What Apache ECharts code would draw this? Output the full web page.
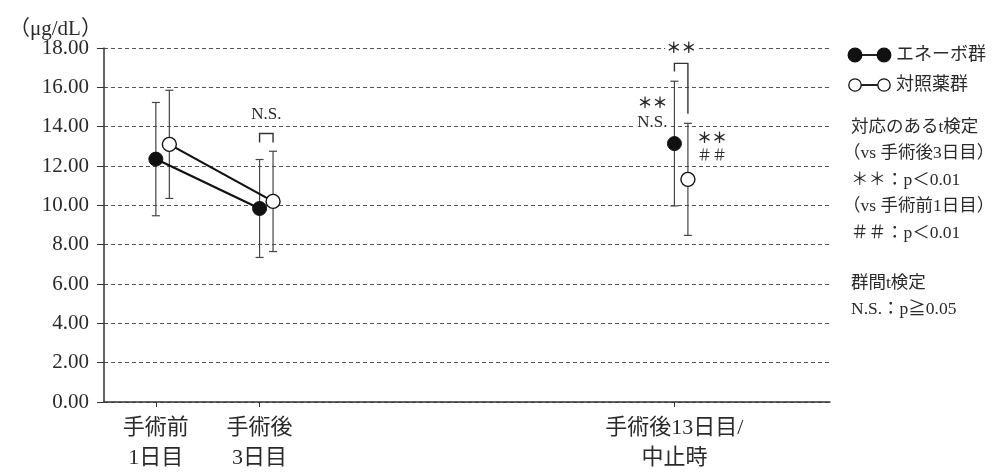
<!DOCTYPE html>
<html>
<head>
<meta charset="utf-8">
<script src="https://cdn.jsdelivr.net/npm/echarts@6/dist/echarts.min.js"></script>
<style>
  html, body { margin: 0; padding: 0; background: #fff; }
  #chart { width: 1003px; height: 473px; }
</style>
</head>
<body>
<div id="chart"></div>
<script>
// Time points on the x axis
const categories = ['手術前\n1日目', '手術後\n3日目', '手術後13日目/\n中止時'];
// Mean ± SD (μg/dL) for each group
const enerboMean = [12.35, 9.84, 13.14];
const enerboSD = [2.88, 2.49, 3.17];
const controlMean = [13.10, 10.20, 11.32];
const controlSD = [2.75, 2.55, 2.85];
// Y axis ticks
const yTicks = [0, 2, 4, 6, 8, 10, 12, 14, 16, 18];
// Group names
const groupNames = ['エネーボ群', '対照薬群'];
// Note text on the right
const notes = ['対応のあるt検定', '（vs 手術後3日目）', '＊＊：p＜0.01', '（vs 手術前1日目）', '＃＃：p＜0.01', '', '群間t検定', 'N.S.：p≧0.05'];

const FONT = "'Liberation Serif', 'Noto Sans CJK JP', serif";
const INK = '#2a2a2a';

// slot positions of the three time points on a 0..7 axis, and the side-by-side shift of the control group
const slots = [0.5, 1.5, 5.5];
const shift = 0.13;

const enerboPts = enerboMean.map((m, i) => [slots[i], m]);
const controlPts = controlMean.map((m, i) => [slots[i] + shift, m]);
const enerboErr = enerboMean.map((m, i) => [slots[i], m, enerboSD[i]]);
const controlErr = controlMean.map((m, i) => [slots[i] + shift, m, controlSD[i]]);

function errorBar(params, api) {
  const x = api.value(0), m = api.value(1), s = api.value(2);
  const top = api.coord([x, m + s]);
  const bot = api.coord([x, m - s]);
  const cap = 4;
  const style = { stroke: '#444', lineWidth: 1.2 };
  return {
    type: 'group',
    children: [
      { type: 'line', shape: { x1: top[0], y1: top[1], x2: bot[0], y2: bot[1] }, style },
      { type: 'line', shape: { x1: top[0] - cap, y1: top[1], x2: top[0] + cap, y2: top[1] }, style },
      { type: 'line', shape: { x1: bot[0] - cap, y1: bot[1], x2: bot[0] + cap, y2: bot[1] }, style }
    ]
  };
}

// Significance brackets: [xLeft, xRight, yTop, yLeftLegEnd, yRightLegEnd]
const brackets = [
  [slots[1], slots[1] + shift, 13.65, 13.2, 13.2],
  [slots[2], slots[2] + shift, 17.22, 16.8, 14.66]
];
function bracketItem(params, api) {
  const a = api.coord([api.value(0), api.value(2)]);
  const b = api.coord([api.value(1), api.value(2)]);
  const la = api.coord([api.value(0), api.value(3)]);
  const lb = api.coord([api.value(1), api.value(4)]);
  return {
    type: 'polyline',
    shape: { points: [[la[0], la[1]], [a[0], a[1]], [b[0], b[1]], [lb[0], lb[1]]] },
    style: { stroke: '#333', lineWidth: 1.4, fill: null }
  };
}

// Text marks: [x, y, text, pixel dx, align, font size]
const marks = [
  [slots[1] + shift / 2, 14.62, 'N.S.', 0, 'center', 17],
  [slots[2] + shift / 2, 17.95, '＊＊', 0, 'center', 15],
  [slots[2], 15.17, '＊＊', -22, 'center', 15],
  [slots[2], 14.2, 'N.S.', -6, 'right', 17],
  [slots[2] + shift, 13.35, '＊＊', 8, 'left', 15],
  [slots[2] + shift, 12.49, '＃＃', 8, 'left', 15]
];
function markItem(params, api) {
  const m = marks[params.dataIndex];
  const p = api.coord([m[0], m[1]]);
  const heavy = m[2].indexOf('＊') >= 0 ? 'bold ' : '';
  return {
    type: 'text',
    x: p[0] + m[3], y: p[1],
    style: {
      text: m[2], fill: INK, font: heavy + m[5] + 'px ' + FONT,
      align: m[4], verticalAlign: 'middle',
      backgroundColor: '#fff', padding: [0, 1]
    },
    z2: 10
  };
}

const chart = echarts.init(document.getElementById('chart'), null, { renderer: 'canvas' });

const legendY = [55, 85];
const graphic = [
  { type: 'text', x: 9, y: 29, style: { text: '（μg/dL）', font: '21px ' + FONT, fill: INK, verticalAlign: 'middle' } }
];
groupNames.forEach((name, i) => {
  const y = legendY[i];
  const filled = i === 0;
  graphic.push({ type: 'line', shape: { x1: 855, y1: y, x2: 884, y2: y }, style: { stroke: '#222', lineWidth: 2 } });
  [855, 884].forEach(cx => graphic.push({
    type: 'circle', shape: { cx, cy: y, r: filled ? 6.8 : 6.2 },
    style: { fill: filled ? '#111' : '#fff', stroke: '#111', lineWidth: 1.3 }, z: 10
  }));
  graphic.push({ type: 'text', x: 896, y, style: { text: name, font: '18px ' + FONT, fill: INK, verticalAlign: 'middle' } });
});
notes.forEach((t, i) => {
  if (!t) return;
  // full-width opening parenthesis carries its own left spacing
  const x = t.charAt(0) === '（' ? 843 : 851;
  graphic.push({ type: 'text', x, y: 127 + i * 26.5 + (i >= 6 ? -3 : 0), style: { text: t, font: '17.5px ' + FONT, fill: INK, verticalAlign: 'middle' } });
});

chart.setOption({
  animation: false,
  backgroundColor: '#fff',
  grid: { left: 104, right: 173, top: 48, bottom: 69 },
  xAxis: {
    type: 'value', min: 0, max: 7,
    axisLine: { lineStyle: { color: '#333', width: 1.5 } },
    axisTick: { show: true, length: 5, customValues: slots, lineStyle: { color: '#333' } },
    axisLabel: {
      customValues: slots,
      formatter: v => categories[slots.indexOf(v)] || '',
      color: INK, fontFamily: FONT, fontSize: 22, lineHeight: 30, margin: 11
    },
    splitLine: { show: false }
  },
  yAxis: {
    type: 'value', min: yTicks[0], max: yTicks[yTicks.length - 1], interval: 2,
    axisLine: { show: true, lineStyle: { color: '#333', width: 1.5 } },
    axisTick: { show: true, length: 7, lineStyle: { color: '#333' } },
    axisLabel: { formatter: v => v.toFixed(2), color: INK, fontFamily: FONT, fontSize: 21, margin: 15 },
    splitLine: { show: true, lineStyle: { color: '#555', type: [4, 3], width: 1 } }
  },
  graphic,
  series: [
    { type: 'custom', renderItem: errorBar, data: enerboErr, z: 2, silent: true },
    { type: 'custom', renderItem: errorBar, data: controlErr, z: 2, silent: true },
    { type: 'custom', renderItem: bracketItem, data: brackets, z: 3, silent: true },
    {
      name: groupNames[0], type: 'line', data: enerboPts.slice(0, 2), z: 4,
      symbol: 'circle', symbolSize: 14,
      lineStyle: { color: '#111', width: 2.2 },
      itemStyle: { color: '#111', borderColor: '#111', borderWidth: 1, opacity: 1 }
    },
    {
      name: groupNames[1], type: 'line', data: controlPts.slice(0, 2), z: 4,
      symbol: 'circle', symbolSize: 14,
      lineStyle: { color: '#111', width: 2.2 },
      itemStyle: { color: '#fff', borderColor: '#111', borderWidth: 1.4, opacity: 1 }
    },
    {
      type: 'scatter', data: enerboPts.slice(2), z: 5, symbol: 'circle', symbolSize: 14,
      itemStyle: { color: '#111', borderColor: '#111', borderWidth: 1, opacity: 1 }
    },
    {
      type: 'scatter', data: controlPts.slice(2), z: 5, symbol: 'circle', symbolSize: 14,
      itemStyle: { color: '#fff', borderColor: '#111', borderWidth: 1.4, opacity: 1 }
    },
    { type: 'custom', renderItem: markItem, data: marks.map(m => [m[0], m[1]]), z: 6, silent: true }
  ]
});
</script>
</body>
</html>
